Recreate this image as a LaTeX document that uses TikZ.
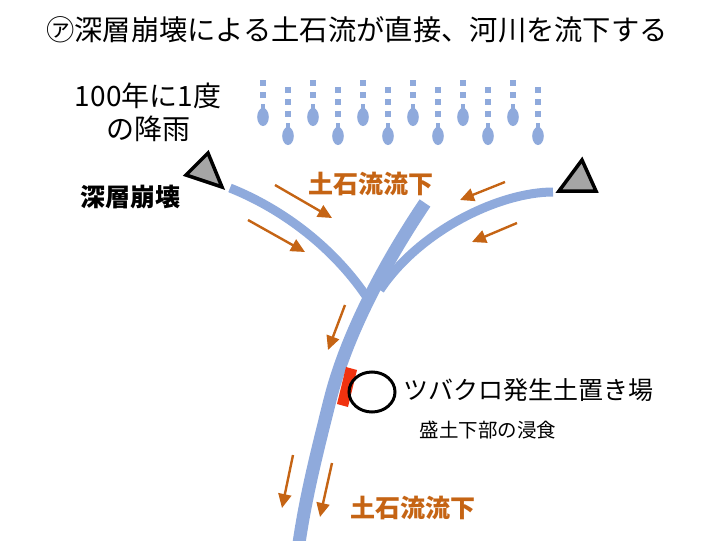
\documentclass[tikz,border=0pt]{standalone}
\usepackage{fontspec}
\setmainfont{Noto Sans CJK JP}
\usepackage{tikz}
\usetikzlibrary{arrows.meta}

\definecolor{riverblue}{RGB}{143,170,220}
\definecolor{flowbrown}{RGB}{197,100,20}
\definecolor{slidegray}{RGB}{165,165,165}
\definecolor{cutred}{RGB}{240,50,15}

\tikzset{
  river/.style={riverblue, line width=9pt},
  flow/.style={flowbrown, line width=2.4pt, -{Triangle[length=14pt,width=13pt]}},
  slide/.style={fill=slidegray, draw=black, line width=3.5pt, line join=miter},
  droplet/.style={fill=riverblue},
  flowlabel/.style={flowbrown, font=\fontsize{25}{27}\selectfont\bfseries},
}

% one drop of rain, bulb centred on (#1,#2)
\newcommand{\raindrop}[2]{%
  \fill[droplet] (#1-2.2,#2-13) rectangle (#1+2.2,#2-5);
  \fill[droplet] (#1,#2) ellipse [x radius=5.8, y radius=9];}

\begin{document}
\begin{tikzpicture}[x=1pt,y=-1pt]
        \useasboundingbox (0,0) rectangle (721,541);

        \node (title) at (357,30) {\fontsize{28.3}{30}\selectfont ㋐深層崩壊による土石流が直接、河川を流下する};

        % rain
        \foreach \x in {263,313,...,513} {
            \fill[droplet] (\x-3.3,80) rectangle (\x+3.3,86);
            \fill[droplet] (\x-3.3,92.3) rectangle (\x+3.3,98.3);
            \raindrop{\x}{117}
        }
        \foreach \x in {288,338,...,538} {
            \fill[droplet] (\x-3.3,86.5) rectangle (\x+3.3,92.5);
            \fill[droplet] (\x-3.3,98.8) rectangle (\x+3.3,104.8);
            \fill[droplet] (\x-3.3,111.1) rectangle (\x+3.3,117.1);
            \raindrop{\x}{136}
        }
        \node[align=center, font=\fontsize{28}{33}\selectfont] (rainfall) at (148,112) {100年に1度\\の降雨};

        % rivers
        \draw[river] (230,188) .. controls (290,212) and (340,255) .. (370,302);
        \draw[river] (553,192) .. controls (500,192) and (420,230) .. (380,290);
        \draw[river, line width=13pt] (425,203) .. controls (380,270) and (345,340) .. (330,400)
            .. controls (315,460) and (305,500) .. (298,550);

        % slope failures
        \draw[slide] (208,153) -- (186,175) -- (222,187) -- cycle;
        \draw[slide] (582,160) -- (559,191) -- (596,191) -- cycle;
        \node[font=\fontsize{25}{27}\selectfont\bfseries] (collapse) at (130,197) {深層崩壊};

        % debris flow
        \draw[flow] (275,185) -- (332,218);
        \draw[flow] (248,220) -- (305,252);
        \draw[flow] (505,182) -- (460,200);
        \draw[flow] (517,223) -- (472,242);
        \draw[flow] (345,305) -- (328,350);
        \draw[flow] (293,455) -- (282,508);
        \draw[flow] (332,463) -- (320,517);
        \node[flowlabel] (flowtop) at (371,184) {土石流流下};
        \node[flowlabel] (flowbottom) at (413,508) {土石流流下};

        % spoil bank
        \fill[cutred] (346,367) -- (357,370) -- (348,407) -- (337,404) -- cycle;
        \draw[line width=3pt] (372,392) ellipse [x radius=23, y radius=20];
        \node[font=\fontsize{25}{27}\selectfont] (yard) at (528,390) {ツバクロ発生土置き場};
        \node[font=\fontsize{19.5}{21}\selectfont] (erosion) at (488,430) {盛土下部の浸食};
\end{tikzpicture}
\end{document}
